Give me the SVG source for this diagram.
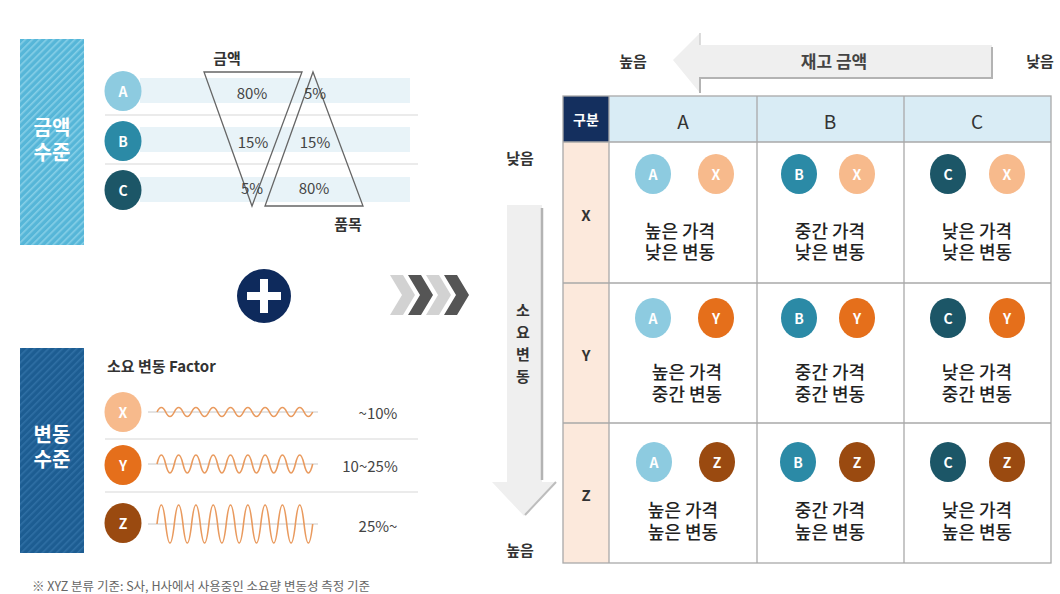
<svg xmlns="http://www.w3.org/2000/svg" width="1060" height="594" viewBox="0 0 1060 594">
<defs>
<pattern id="stripeA" width="5" height="5" patternUnits="userSpaceOnUse" patternTransform="rotate(45)">
<rect width="5" height="5" fill="#56b6d8"/><rect width="1.6" height="5" fill="#86cfe7"/>
</pattern>
<pattern id="stripeB" width="5" height="5" patternUnits="userSpaceOnUse" patternTransform="rotate(45)">
<rect width="5" height="5" fill="#1d5d92"/><rect width="1.6" height="5" fill="#2f6fa4"/>
</pattern>
</defs>
<style>
text{font-family:"Noto Sans CJK KR","Noto Sans",sans-serif;}
.w{fill:#fff;font-weight:700;text-anchor:middle;dominant-baseline:central;}
.wl{fill:#fff;font-weight:700;text-anchor:middle;font-size:20px;}
.ct{fill:#222;font-size:18px;font-weight:500;text-anchor:middle;}
.lbl{fill:#333;font-size:15px;font-weight:700;text-anchor:middle;dominant-baseline:central;}
.pct{fill:#444;font-size:15px;text-anchor:middle;dominant-baseline:central;}
.band{fill:#e8f3f8;}
.sep{stroke:#d8d8d8;stroke-width:1.2;}
.grid{stroke:#a9a9a9;stroke-width:1.3;fill:none;}
.wave{fill:none;stroke:#e99a5e;stroke-width:1.6;}
.base{stroke:#c8c8c8;stroke-width:1;}
.cA{fill:#8dcbe0}.cB{fill:#2b8aa6}.cC{fill:#1c5667}
.cX{fill:#f7ba8c}.cY{fill:#e56f1b}.cZ{fill:#9a4a10}
</style>
<rect width="1060" height="594" fill="#fff"/>

<!-- Left top panel -->
<g id="amount-level">
<rect x="20" y="39" width="64" height="206" fill="url(#stripeA)"/>
<text class="wl"><tspan x="52" y="135">금액</tspan><tspan x="52" y="160">수준</tspan></text>
</g>
<g id="abc-bands">
<rect class="band" x="140" y="78" width="270" height="25"/>
<rect class="band" x="140" y="127" width="270" height="25"/>
<rect class="band" x="140" y="177" width="270" height="25"/>
<line class="sep" x1="105" y1="115" x2="418" y2="115"/>
<line class="sep" x1="105" y1="164" x2="418" y2="164"/>
</g>
<g id="circle-A"><ellipse class="cA" cx="123" cy="91" rx="18.5" ry="20"/><text class="w" x="123" y="91" font-size="14">A</text></g>
<g id="circle-B"><ellipse class="cB" cx="123" cy="141" rx="18.5" ry="20"/><text class="w" x="123" y="141" font-size="14">B</text></g>
<g id="circle-C"><ellipse class="cC" cx="123" cy="190" rx="18.5" ry="20"/><text class="w" x="123" y="190" font-size="14">C</text></g>
<g id="triangle-amount">
<polygon points="204,72 302,72 252,206" fill="none" stroke="#666" stroke-width="1.3"/>
<text x="227" y="57" class="lbl" font-size="15">금액</text>
<text x="252" y="92" class="pct">80%</text>
<text x="253" y="141" class="pct">15%</text>
<text x="252" y="187" class="pct">5%</text>
</g>
<g id="triangle-items">
<polygon points="313,72 363,206 265,206" fill="none" stroke="#666" stroke-width="1.3"/>
<text x="348" y="223" class="lbl" font-size="15">품목</text>
<text x="315" y="92" class="pct">5%</text>
<text x="315" y="141" class="pct">15%</text>
<text x="314" y="187" class="pct">80%</text>
</g>

<!-- Plus -->
<g id="plus">
<circle cx="264" cy="296" r="27" fill="#0e2a5c"/>
<rect x="260" y="279" width="8" height="34" fill="#fff"/>
<rect x="247" y="292" width="34" height="8" fill="#fff"/>
</g>

<!-- Left bottom panel -->
<g id="variation-level">
<rect x="20" y="348" width="64" height="205" fill="url(#stripeB)"/>
<text class="wl"><tspan x="52" y="442">변동</tspan><tspan x="52" y="467">수준</tspan></text>
</g>
<g id="factor">
<text x="107" y="365" fill="#333" font-size="15" font-weight="700" dominant-baseline="central">소요 변동 Factor</text>
<line class="sep" x1="105" y1="439" x2="418" y2="439"/>
<line class="sep" x1="105" y1="492" x2="418" y2="492"/>
</g>
<g id="circle-X">
<ellipse class="cX" cx="123" cy="412" rx="18.5" ry="20"/><text class="w" x="123" y="412" font-size="14">X</text>
<line class="base" x1="148" y1="412" x2="318" y2="412"/>
<path class="wave" d="M157,412 q4.33,-9 8.65,0 t8.65,0 t8.65,0 t8.65,0 t8.65,0 t8.65,0 t8.65,0 t8.65,0 t8.65,0 t8.65,0 t8.65,0 t8.65,0 t8.65,0 t8.65,0 t8.65,0 t8.65,0 t8.65,0 t8.65,0"/>
<text x="378" y="412" class="pct">~10%</text>
</g>
<g id="circle-Y">
<ellipse class="cY" cx="123" cy="465" rx="18.5" ry="20"/><text class="w" x="123" y="465" font-size="14">Y</text>
<line class="base" x1="148" y1="464" x2="318" y2="464"/>
<path class="wave" d="M157,464 q4.33,-18 8.65,0 t8.65,0 t8.65,0 t8.65,0 t8.65,0 t8.65,0 t8.65,0 t8.65,0 t8.65,0 t8.65,0 t8.65,0 t8.65,0 t8.65,0 t8.65,0 t8.65,0 t8.65,0 t8.65,0 t8.65,0"/>
<text x="370" y="465" class="pct">10~25%</text>
</g>
<g id="circle-Z">
<ellipse class="cZ" cx="123" cy="523" rx="18.5" ry="20"/><text class="w" x="123" y="523" font-size="14">Z</text>
<line class="base" x1="148" y1="524" x2="318" y2="524"/>
<path class="wave" d="M157,524 q4.33,-38 8.65,0 t8.65,0 t8.65,0 t8.65,0 t8.65,0 t8.65,0 t8.65,0 t8.65,0 t8.65,0 t8.65,0 t8.65,0 t8.65,0 t8.65,0 t8.65,0 t8.65,0 t8.65,0 t8.65,0 t8.65,0"/>
<text x="378" y="525" class="pct">25%~</text>
</g>
<text id="footnote" x="32" y="591" fill="#666" font-size="12.5">※ XYZ 분류 기준: S사, H사에서 사용중인 소요량 변동성 측정 기준</text>

<!-- Chevrons -->
<g id="chevrons">
<polygon points="390,275 403,275 415,295 403,315 390,315 402,295" fill="#d2d2d2"/>
<polygon points="408,275 421,275 433,295 421,315 408,315 420,295" fill="#555"/>
<polygon points="426,275 439,275 451,295 439,315 426,315 438,295" fill="#d2d2d2"/>
<polygon points="444,275 457,275 469,295 457,315 444,315 456,295" fill="#555"/>
</g>

<!-- Top arrow -->
<g id="amount-arrow">
<polygon points="673,60 700,33 700,45 992,45 992,78 700,78 700,93" fill="#efefef"/>
<polyline points="992,47 992,78 700,78 700,93" fill="none" stroke="#b3b3b3" stroke-width="2"/>
<line x1="700" y1="33" x2="700" y2="45" stroke="#d0d0d0" stroke-width="1.5"/>
<text x="834" y="60" fill="#444" font-size="17" font-weight="700" text-anchor="middle" dominant-baseline="central">재고 금액</text>
<text x="633" y="60" class="lbl">높음</text>
<text x="1040" y="60" class="lbl">낮음</text>
</g>

<!-- Vertical arrow -->
<g id="demand-arrow">
<polygon points="507,205 542,205 542,482 556,482 524,516 492,482 507,482" fill="#efefef"/>
<polyline points="542,208 542,480" fill="none" stroke="#b3b3b3" stroke-width="2.5"/>
<line x1="556" y1="482" x2="525" y2="515" stroke="#bdbdbd" stroke-width="2"/>
<text x="523" y="309" class="lbl" font-size="15">소</text>
<text x="523" y="331" class="lbl" font-size="15">요</text>
<text x="523" y="353" class="lbl" font-size="15">변</text>
<text x="523" y="375" class="lbl" font-size="15">동</text>
<text x="520" y="157" class="lbl">낮음</text>
<text x="520" y="549" class="lbl">높음</text>
</g>

<!-- Table -->
<g id="table-frame">
<rect x="563" y="96" width="46" height="46" fill="#142f5e"/>
<rect x="609" y="96" width="442" height="46" fill="#d9ecf5"/>
<rect x="563" y="142" width="46" height="421" fill="#fce9dc"/>
<rect x="609" y="142" width="442" height="421" fill="#fff"/>
<rect class="grid" x="563" y="96" width="488" height="467"/>
<line class="grid" x1="609" y1="96" x2="609" y2="563"/>
<line class="grid" x1="757" y1="96" x2="757" y2="563"/>
<line class="grid" x1="904" y1="96" x2="904" y2="563"/>
<line class="grid" x1="563" y1="142" x2="1051" y2="142"/>
<line class="grid" x1="563" y1="283" x2="1051" y2="283"/>
<line class="grid" x1="563" y1="423" x2="1051" y2="423"/>
<text x="586" y="119" class="w" font-size="14">구분</text>
<text x="683" y="120" fill="#333" font-size="19" text-anchor="middle" dominant-baseline="central">A</text>
<text x="830" y="120" fill="#333" font-size="19" text-anchor="middle" dominant-baseline="central">B</text>
<text x="977" y="120" fill="#333" font-size="19" text-anchor="middle" dominant-baseline="central">C</text>
<text x="586" y="214" class="lbl" font-size="16">X</text>
<text x="586" y="354" class="lbl" font-size="16">Y</text>
<text x="586" y="494" class="lbl" font-size="16">Z</text>
</g>

<g id="cell-AX"><ellipse class="cA" cx="653" cy="174" rx="18" ry="20"/><text class="w" x="653" y="174" font-size="14">A</text><ellipse class="cX" cx="716" cy="174" rx="18" ry="20"/><text class="w" x="716" y="174" font-size="14">X</text><text class="ct"><tspan x="680" y="238">높은 가격</tspan><tspan x="680" y="259">낮은 변동</tspan></text></g>
<g id="cell-BX"><ellipse class="cB" cx="799" cy="174" rx="18" ry="20"/><text class="w" x="799" y="174" font-size="14">B</text><ellipse class="cX" cx="857" cy="174" rx="18" ry="20"/><text class="w" x="857" y="174" font-size="14">X</text><text class="ct"><tspan x="830" y="238">중간 가격</tspan><tspan x="830" y="259">낮은 변동</tspan></text></g>
<g id="cell-CX"><ellipse class="cC" cx="948" cy="174" rx="18" ry="20"/><text class="w" x="948" y="174" font-size="14">C</text><ellipse class="cX" cx="1007" cy="174" rx="18" ry="20"/><text class="w" x="1007" y="174" font-size="14">X</text><text class="ct"><tspan x="977" y="238">낮은 가격</tspan><tspan x="977" y="259">낮은 변동</tspan></text></g>

<g id="cell-AY"><ellipse class="cA" cx="653" cy="318" rx="18" ry="20"/><text class="w" x="653" y="318" font-size="14">A</text><ellipse class="cY" cx="716" cy="318" rx="18" ry="20"/><text class="w" x="716" y="318" font-size="14">Y</text><text class="ct"><tspan x="687" y="379">높은 가격</tspan><tspan x="687" y="401">중간 변동</tspan></text></g>
<g id="cell-BY"><ellipse class="cB" cx="799" cy="318" rx="18" ry="20"/><text class="w" x="799" y="318" font-size="14">B</text><ellipse class="cY" cx="857" cy="318" rx="18" ry="20"/><text class="w" x="857" y="318" font-size="14">Y</text><text class="ct"><tspan x="830" y="379">중간 가격</tspan><tspan x="830" y="401">중간 변동</tspan></text></g>
<g id="cell-CY"><ellipse class="cC" cx="948" cy="318" rx="18" ry="20"/><text class="w" x="948" y="318" font-size="14">C</text><ellipse class="cY" cx="1007" cy="318" rx="18" ry="20"/><text class="w" x="1007" y="318" font-size="14">Y</text><text class="ct"><tspan x="977" y="379">낮은 가격</tspan><tspan x="977" y="401">중간 변동</tspan></text></g>

<g id="cell-AZ"><ellipse class="cA" cx="654" cy="462" rx="18" ry="20"/><text class="w" x="654" y="462" font-size="14">A</text><ellipse class="cZ" cx="717" cy="462" rx="18" ry="20"/><text class="w" x="717" y="462" font-size="14">Z</text><text class="ct"><tspan x="683" y="517">높은 가격</tspan><tspan x="683" y="539">높은 변동</tspan></text></g>
<g id="cell-BZ"><ellipse class="cB" cx="798" cy="462" rx="18" ry="20"/><text class="w" x="798" y="462" font-size="14">B</text><ellipse class="cZ" cx="857" cy="462" rx="18" ry="20"/><text class="w" x="857" y="462" font-size="14">Z</text><text class="ct"><tspan x="830" y="517">중간 가격</tspan><tspan x="830" y="539">높은 변동</tspan></text></g>
<g id="cell-CZ"><ellipse class="cC" cx="948" cy="462" rx="18" ry="20"/><text class="w" x="948" y="462" font-size="14">C</text><ellipse class="cZ" cx="1007" cy="462" rx="18" ry="20"/><text class="w" x="1007" y="462" font-size="14">Z</text><text class="ct"><tspan x="977" y="517">낮은 가격</tspan><tspan x="977" y="539">높은 변동</tspan></text></g>
</svg>
